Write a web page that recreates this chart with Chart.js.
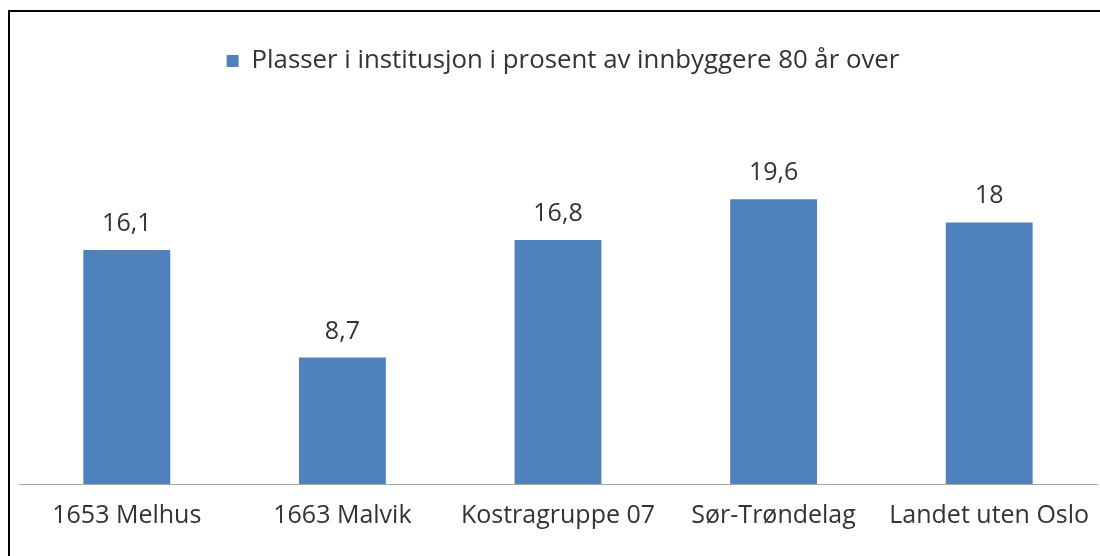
<!DOCTYPE html>
<html>
<head>
<meta charset="utf-8">
<script src="https://cdn.jsdelivr.net/npm/chart.js@4/dist/chart.umd.min.js"></script>
<style>
html,body{margin:0;padding:0;background:#fff;}
#wrap{position:absolute;left:0;top:0;width:1100px;height:556px;}
</style>
</head>
<body>
<div id="wrap"><canvas id="c" width="1100" height="556"></canvas></div>
<script>
const categories = ["1653 Melhus", "1663 Malvik", "Kostragruppe 07", "Sør-Trøndelag", "Landet uten Oslo"];
const seriesName = "Plasser i institusjon i prosent av innbyggere 80 år over";
const values = [16.1, 8.7, 16.8, 19.6, 18];

const FONT = "'Open Sans', 'Noto Sans', sans-serif";
const TEXT = "#333333";

const frame = {
  id: 'frame',
  afterDraw(chart) {
    const ctx = chart.ctx;
    ctx.save();
    ctx.strokeStyle = '#000';
    ctx.lineWidth = 2;
    ctx.beginPath();
    ctx.moveTo(9, 556);
    ctx.lineTo(9, 11);
    ctx.lineTo(1100, 11);
    ctx.stroke();
    ctx.restore();
  }
};

// extra gap between legend and plot area, and a small horizontal nudge
const legendGap = {
  id: 'legendGap',
  beforeLayout(chart) {
    const lg = chart.legend;
    if (lg && !lg._gapPatched) {
      const orig = lg.fit.bind(lg);
      lg.fit = function () { orig(); this.height += 37; };
      lg._gapPatched = true;
    }
  },
  afterLayout(chart) {
    const lg = chart.legend;
    if (lg) { lg.left += 5; lg.right += 5; }
  }
};

const valueLabels = {
  id: 'valueLabels',
  afterDatasetsDraw(chart) {
    const ctx = chart.ctx;
    const meta = chart.getDatasetMeta(0);
    ctx.save();
    ctx.font = "25px " + FONT;
    ctx.fillStyle = TEXT;
    ctx.textAlign = 'center';
    ctx.textBaseline = 'alphabetic';
    meta.data.forEach((bar, i) => {
      const v = chart.data.datasets[0].data[i];
      ctx.fillText(String(v).replace('.', ','), bar.x, bar.y - 19);
    });
    ctx.restore();
  }
};

new Chart(document.getElementById('c'), {
  type: 'bar',
  data: {
    labels: categories,
    datasets: [{
      label: seriesName,
      data: values,
      backgroundColor: '#4F81BD',
      borderWidth: 0,
      categoryPercentage: 1,
      barPercentage: 0.403
    }]
  },
  options: {
    responsive: false,
    animation: false,
    devicePixelRatio: 1,
    layout: { padding: { left: 19, right: 3, top: 38, bottom: 0 } },
    plugins: {
      legend: {
        display: true,
        position: 'top',
        labels: {
          boxWidth: 12, boxHeight: 12,
          color: TEXT,
          font: { size: 25.8, family: FONT },
          padding: 10
        }
      },
      tooltip: { enabled: false },
      title: { display: false }
    },
    scales: {
      x: {
        grid: { display: false, drawTicks: false },
        border: { display: true, color: '#A6A6A6', width: 1 },
        ticks: { color: TEXT, font: { size: 25, family: FONT }, padding: 17, maxRotation: 0, autoSkip: false },
        afterFit(scale) { scale.height = 72; scale.paddingLeft = 0; scale.paddingRight = 0; }
      },
      y: {
        display: false,
        min: 0,
        max: 25
      }
    }
  },
  plugins: [frame, legendGap, valueLabels]
});
</script>
</body>
</html>
